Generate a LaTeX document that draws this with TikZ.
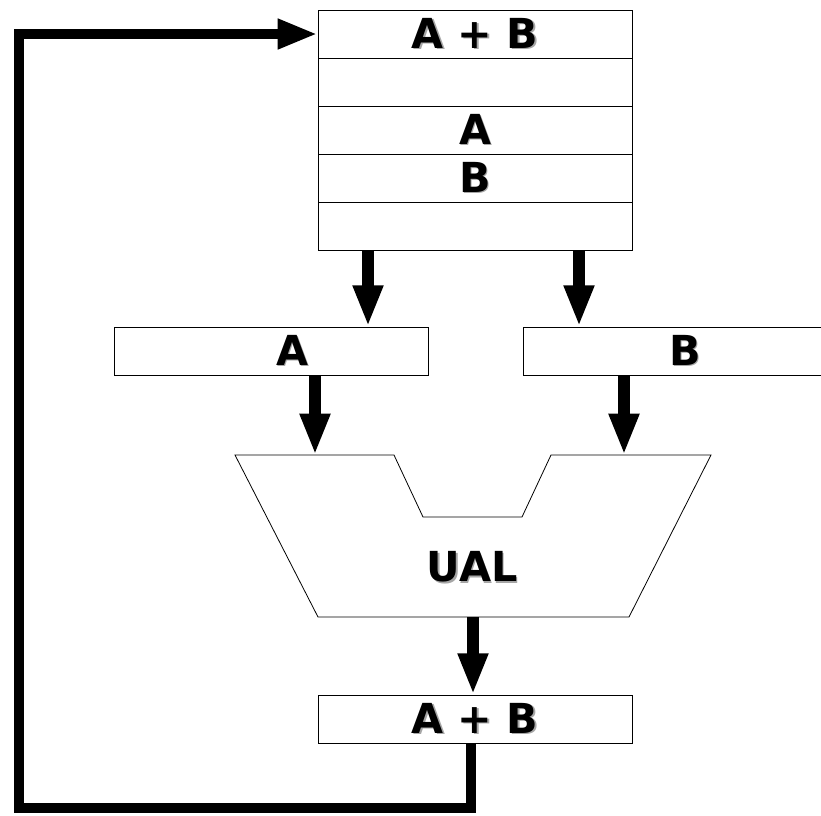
\documentclass[tikz,border=0pt]{standalone}
\usepackage{fontspec}
\setmainfont{DejaVu Sans}
\usetikzlibrary{arrows.meta}
\newcommand{\ombre}[1]{\makebox[0pt][l]{\hspace{1.3pt}\raisebox{-1.3pt}{\textcolor{black!35}{#1}}}#1}

\begin{document}
\begin{tikzpicture}[x=0.75pt, y=-0.75pt,
  reg/.style={draw, line width=0.6pt, minimum width=235.5pt, minimum height=36pt, inner sep=0pt, font=\fontsize{31}{31}\selectfont\bfseries},
  txt/.style={inner sep=0pt, font=\fontsize{31}{31}\selectfont\bfseries},
  fleche/.style={line width=9pt, -{Triangle[length=31pt, width=21pt]}},
  retour/.style={line width=7.5pt, -{Triangle[length=30pt, width=21pt]}}]
\useasboundingbox (0,0) rectangle (821,815);
\node[reg] (r1) at (475,34) {\ombre{A + B}};
\node[reg] (r2) at (475,82) {};
\node[reg] (r3) at (475,130) {\ombre{A}};
\node[reg] (r4) at (475,178) {\ombre{B}};
\node[reg] (r5) at (475,226) {};
\node[reg] (regA) at (271,351) {};
\node[txt] (tA) at (292,351) {\ombre{A}};
\node[reg] (regB) at (680,351) {};
\node[txt] (tB) at (685,351) {\ombre{B}};
\draw[line width=0.6pt] (235,455) -- (394,455) -- (423,517) -- (522,517) -- (551,455) -- (711,455) -- (629,617) -- (318,617) -- cycle;
\node[txt] (ual) at (472,568) {\ombre{UAL}};
\node[reg] (res) at (475,719) {\ombre{A + B}};
\coordinate (xA) at (368,0);
\coordinate (xB) at (579,0);
\coordinate (eA) at (315,455);
\coordinate (eB) at (624,455);
\coordinate (s) at (473,617);
\coordinate (coin) at (19,808);
\draw[fleche] (xA |- r5.south) -- (xA |- regA.north);
\draw[fleche] (xB |- r5.south) -- (xB |- regB.north);
\draw[fleche] (eA |- regA.south) -- (eA);
\draw[fleche] (eB |- regB.south) -- (eB);
\draw[fleche] (s) -- (s |- res.north);
\draw[retour] ([xshift=-3pt]res.south) |- (coin) |- (r1.west);
\end{tikzpicture}
\end{document}
